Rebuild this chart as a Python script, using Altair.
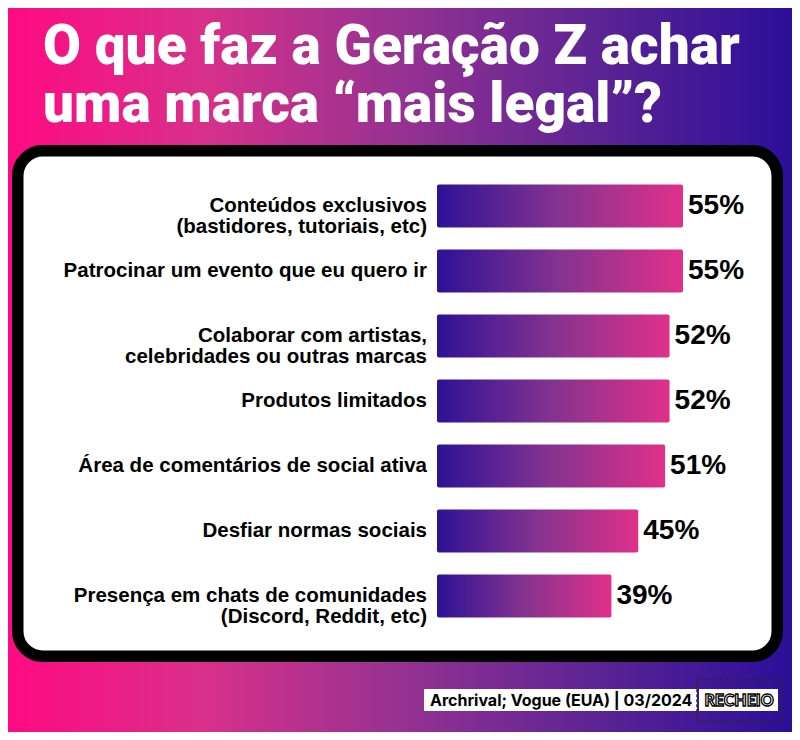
import altair as alt
import pandas as pd

# ---------------- data ----------------
categories = [
    "Conteúdos exclusivos\n(bastidores, tutoriais, etc)",
    "Patrocinar um evento que eu quero ir",
    "Colaborar com artistas,\ncelebridades ou outras marcas",
    "Produtos limitados",
    "Área de comentários de social ativa",
    "Desfiar normas sociais",
    "Presença em chats de comunidades\n(Discord, Reddit, etc)",
]
values = [55, 55, 52, 52, 51, 45, 39]
title_lines = ["O que faz a Geração Z achar", "uma marca “mais legal”?"]
source_text = "Archrival; Vogue (EUA) | 03/2024"
brand_text = "RECHEIO"

# ---------------- layout ----------------
W, H = 784, 724
OFF = 8  # page margin

px_per = (683 - 437) / 55.0
x0 = 437 - OFF
x_dom = [-x0 / px_per, (W - x0) / px_per]
step = 65.0
yc0 = 206 - OFF
y_dom = [-yc0 / step, (H - yc0) / step]
half = 21.5 / step

xscale = alt.Scale(domain=x_dom, nice=False, zero=False)
yscale = alt.Scale(domain=y_dom, nice=False, zero=False, reverse=True)

df = pd.DataFrame({"label": categories, "value": values, "rank": list(range(len(values)))})
one = pd.DataFrame({"a": [0]})

bg_grad = alt.Gradient(
    gradient="linear", x1=0, x2=1, y1=0, y2=0,
    stops=[
        alt.GradientStop(color="#ff0a82", offset=0),
        alt.GradientStop(color="#d8308a", offset=0.25),
        alt.GradientStop(color="#963292", offset=0.5),
        alt.GradientStop(color="#5c2494", offset=0.75),
        alt.GradientStop(color="#2b0e99", offset=1),
    ],
)
bar_grad = alt.Gradient(
    gradient="linear", x1=0, x2=1, y1=0, y2=0,
    stops=[
        alt.GradientStop(color="#2e1196", offset=0),
        alt.GradientStop(color="#85338f", offset=0.5),
        alt.GradientStop(color="#e0308a", offset=1),
    ],
)

background = alt.Chart(one).mark_rect(color=bg_grad).encode(
    x=alt.value(0), x2=alt.value(W), y=alt.value(0), y2=alt.value(H)
)

sw = 11.5
box = alt.Chart(one).mark_rect(
    fill="white", stroke="black", strokeWidth=sw, cornerRadius=25
).encode(
    x=alt.value(12 - OFF + sw / 2), x2=alt.value(783 - OFF - sw / 2),
    y=alt.value(145 - OFF + sw / 2), y2=alt.value(662 - OFF - sw / 2),
)

title = alt.Chart(one).mark_text(
    text="\n".join(title_lines), lineBreak="\n", align="left", baseline="alphabetic",
    font="Roboto", fontWeight=900, fontSize=55, lineHeight=58, color="white",
).encode(x=alt.value(43 - OFF), y=alt.value(64 - OFF))

base = alt.Chart(df).transform_calculate(
    zero="0",
    y0=f"datum.rank - {half}",
    y1=f"datum.rank + {half}",
    pct="datum.value + '%'",
)

bars = base.mark_rect(color=bar_grad, cornerRadius=2).encode(
    x=alt.X("zero:Q", scale=xscale, axis=None),
    x2="value:Q",
    y=alt.Y("y0:Q", scale=yscale, axis=None),
    y2="y1:Q",
)

labels = base.mark_text(
    align="right", baseline="middle", lineBreak="\n",
    font="Liberation Sans", fontWeight="bold", fontSize=20.5, lineHeight=21, color="black",
).encode(
    x=alt.value(427 - OFF),
    y=alt.Y("rank:Q", scale=yscale, axis=None),
    text="label:N",
)

vals = base.mark_text(
    align="left", baseline="middle", dx=5,
    font="Liberation Sans", fontWeight="bold", fontSize=28, color="black",
).encode(
    x=alt.X("value:Q", scale=xscale, axis=None),
    y=alt.Y("rank:Q", scale=yscale, axis=None),
    text="pct:N",
)

src_box = alt.Chart(one).mark_rect(fill="white").encode(
    x=alt.value(424 - OFF), x2=alt.value(697 - OFF),
    y=alt.value(689 - OFF), y2=alt.value(711 - OFF),
)
src_text = alt.Chart(one).mark_text(
    text=source_text, align="left", baseline="middle",
    font="Inter", fontWeight=700, fontSize=16, color="black",
).encode(x=alt.value(430 - OFF), y=alt.value(700.5 - OFF))

logo_dash = alt.Chart(one).mark_rect(
    fillOpacity=0, stroke="#2a2a2a", strokeWidth=1.5, strokeDash=[3, 2], cornerRadius=3
).encode(
    x=alt.value(697 - OFF), x2=alt.value(782.5 - OFF),
    y=alt.value(679.5 - OFF), y2=alt.value(721.5 - OFF),
)
logo_box = alt.Chart(one).mark_rect(fill="white").encode(
    x=alt.value(699 - OFF), x2=alt.value(778 - OFF),
    y=alt.value(689 - OFF), y2=alt.value(711 - OFF),
)
logo_text = alt.Chart(one).mark_text(
    text=brand_text, align="center", baseline="middle",
    font="Lato", fontWeight=900, fontSize=16, color="white",
    stroke="black", strokeWidth=1.3,
).encode(x=alt.value(739 - OFF), y=alt.value(700.5 - OFF))

chart = alt.layer(
    background, box, title, bars, labels, vals,
    src_box, src_text, logo_dash, logo_box, logo_text,
).properties(
    width=W, height=H, padding=0, autosize=alt.AutoSizeParams(type="none"),
).configure_view(stroke=None).configure(background="white")

chart.save("out.html", embed_options={"renderer": "svg", "actions": False})
